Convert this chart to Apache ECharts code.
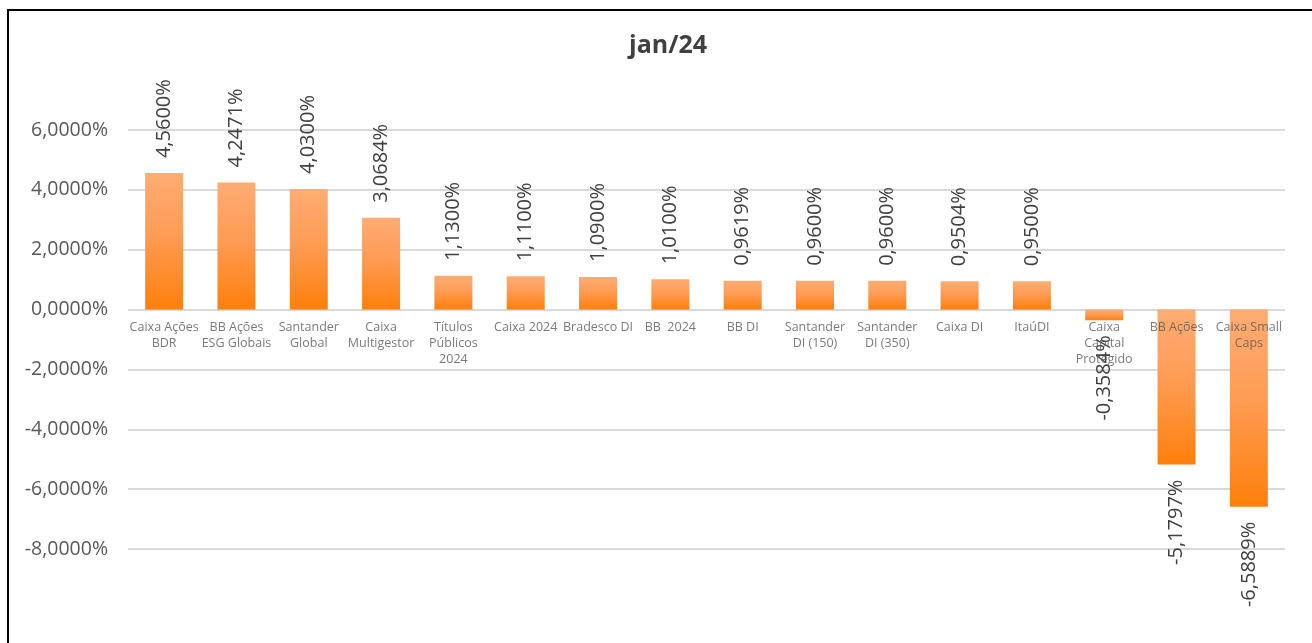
<!DOCTYPE html>
<html>
<head>
<meta charset="utf-8">
<script src="https://cdn.jsdelivr.net/npm/echarts@6/dist/echarts.min.js"></script>
<style>
html,body{margin:0;padding:0;background:#fff;}
#c{width:1312px;height:643px;}
</style>
</head>
<body>
<div id="c"></div>
<script>
const title = 'jan/24';
const categories = ['Caixa Ações\nBDR','BB Ações\nESG Globais','Santander\nGlobal','Caixa\nMultigestor','Títulos\nPúblicos\n2024','Caixa 2024','Bradesco DI','BB  2024','BB DI','Santander\nDI (150)','Santander\nDI (350)','Caixa DI','ItaúDI','Caixa\nCapital\nProtegido','BB Ações','Caixa Small\nCaps'];
const values = [4.5600,4.2471,4.0300,3.0684,1.1300,1.1100,1.0900,1.0100,0.9619,0.9600,0.9600,0.9504,0.9500,-0.3584,-5.1797,-6.5889];
const yTicks = [-8,-6,-4,-2,0,2,4,6];

function fmt(v){ return v.toFixed(4).replace('.',',') + '%'; }

const chart = echarts.init(document.getElementById('c'));
const grad = new echarts.graphic.LinearGradient(0,0,0,1,[
  {offset:0,color:'#FFAC74'},
  {offset:0.45,color:'#FF9C55'},
  {offset:1,color:'#FF7F0A'}
]);
chart.setOption({
  animation:false,
  title:{text:title,left:624,top:28,textStyle:{fontFamily:'Open Sans',fontWeight:'bold',fontSize:25,color:'#404040'}},
  graphic:[{type:'rect',shape:{x:8,y:10,width:1320,height:650},style:{fill:'none',stroke:'#000',lineWidth:2},silent:true}],
  grid:{left:128,right:27,top:130,bottom:94},
  xAxis:{type:'category',data:categories,
    axisLine:{show:false},
    axisTick:{show:false},
    axisLabel:{show:false}},
  yAxis:{type:'value',min:yTicks[0],max:yTicks[yTicks.length-1],interval:2,
    axisLine:{show:false},axisTick:{show:false},
    splitLine:{lineStyle:{color:'#d9d9d9',width:2}},
    axisLabel:{color:'#595959',fontSize:19.5,fontFamily:'Open Sans',margin:20,formatter:v=>fmt(v)}},
  series:[{type:'bar',data:values.map(v=>({value:v,label:{position:v>=0?'top':'bottom',align:v>=0?'left':'right'}})),
    barWidth:38,
    itemStyle:{color:grad},
    label:{show:true,rotate:90,verticalAlign:'middle',distance:15,color:'#404040',fontSize:20,fontFamily:'Open Sans',formatter:p=>fmt(p.value)}
  },{
    type:'scatter',symbolSize:0,silent:true,z:5,
    data:categories.map(c=>[c,0]),
    label:{show:true,position:'bottom',distance:10,color:'#595959',fontSize:12.5,lineHeight:16,fontFamily:'Open Sans',align:'center',
      formatter:p=>p.value[0]}
  }]
});
</script>
</body>
</html>
